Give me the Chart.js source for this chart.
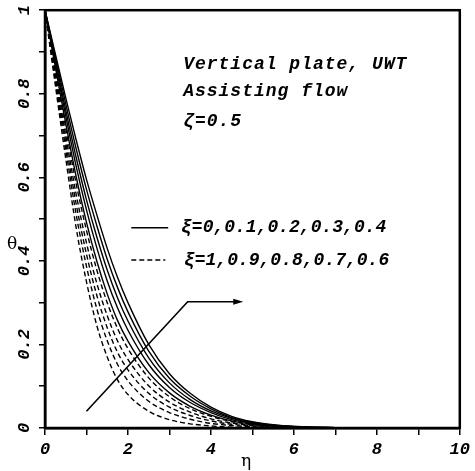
<!DOCTYPE html>
<html>
<head>
<meta charset="utf-8">
<script src="https://cdn.jsdelivr.net/npm/chart.js@4.4.0/dist/chart.umd.min.js"></script>
<style>
  html, body { margin: 0; padding: 0; background: #fff; }
  #wrap { width: 475px; height: 471px; }
</style>
</head>
<body>
<div id="wrap"><canvas id="thetaChart" width="475" height="471"></canvas></div>
<script>
// eta grid shared by all curves
const eta = [0, 0.25, 0.5, 0.75, 1, 1.25, 1.5, 1.75, 2, 2.5, 3, 3.5, 4, 4.5, 5, 5.5, 6, 7, 8, 9, 10];

// solid curves, xi = 0 .. 0.4
const thetaXi00 = [1, 0.895, 0.79, 0.69, 0.595, 0.51, 0.43, 0.36, 0.30, 0.20, 0.13, 0.083, 0.05, 0.028, 0.015, 0.008, 0.004, 0.001, 0, 0, 0];
const thetaXi01 = [1, 0.888, 0.776, 0.669, 0.571, 0.484, 0.404, 0.336, 0.278, 0.184, 0.119, 0.076, 0.046, 0.025, 0.014, 0.007, 0.004, 0.001, 0, 0, 0];
const thetaXi02 = [1, 0.88, 0.761, 0.648, 0.546, 0.457, 0.378, 0.311, 0.256, 0.168, 0.108, 0.068, 0.041, 0.023, 0.012, 0.006, 0.003, 0.001, 0, 0, 0];
const thetaXi03 = [1, 0.873, 0.747, 0.627, 0.522, 0.431, 0.352, 0.287, 0.234, 0.152, 0.097, 0.061, 0.037, 0.02, 0.011, 0.006, 0.003, 0.001, 0, 0, 0];
const thetaXi04 = [1, 0.864, 0.729, 0.602, 0.492, 0.399, 0.321, 0.257, 0.208, 0.133, 0.084, 0.052, 0.031, 0.017, 0.009, 0.005, 0.002, 0, 0, 0, 0];

// dashed curves, xi = 0.6 .. 1
const thetaXi06 = [1, 0.858, 0.718, 0.585, 0.473, 0.378, 0.30, 0.238, 0.19, 0.12, 0.075, 0.046, 0.028, 0.015, 0.008, 0.004, 0.002, 0, 0, 0, 0];
const thetaXi07 = [1, 0.849, 0.70, 0.56, 0.443, 0.346, 0.269, 0.208, 0.164, 0.101, 0.062, 0.038, 0.022, 0.012, 0.006, 0.003, 0.002, 0, 0, 0, 0];
const thetaXi08 = [1, 0.84, 0.684, 0.537, 0.416, 0.317, 0.24, 0.181, 0.139, 0.083, 0.05, 0.03, 0.017, 0.009, 0.005, 0.002, 0.001, 0, 0, 0, 0];
const thetaXi09 = [1, 0.831, 0.667, 0.512, 0.387, 0.285, 0.209, 0.152, 0.113, 0.064, 0.037, 0.021, 0.011, 0.006, 0.003, 0.001, 0.001, 0, 0, 0, 0];
const thetaXi10 = [1, 0.82, 0.645, 0.48, 0.35, 0.245, 0.17, 0.115, 0.08, 0.04, 0.02, 0.01, 0.005, 0.002, 0.001, 0, 0, 0, 0, 0, 0];

const solidSeries = [thetaXi00, thetaXi01, thetaXi02, thetaXi03, thetaXi04];
const dashedSeries = [thetaXi06, thetaXi07, thetaXi08, thetaXi09, thetaXi10];

const xTickLabels = ['0', '2', '4', '6', '8', '10'];
const yTickLabels = ['0', '0.2', '0.4', '0.6', '0.8', '1'];

const noteLines = ['Vertical plate, UWT', 'Assisting flow', 'ζ=0.5'];
const legendSolid = 'ξ=0,0.1,0.2,0.3,0.4';
const legendDashed = 'ξ=1,0.9,0.8,0.7,0.6';

const TICK_FONT = 'bold italic 17px "Liberation Mono", "DejaVu Sans Mono", monospace';
const NOTE_FONT = 'bold italic 18px "Liberation Mono", "DejaVu Sans Mono", monospace';

function toPoints(arr) {
    return arr.map(function (v, i) { return { x: eta[i], y: v }; });
}

function makeSet(arr, dashed) {
    return {
        data: toPoints(arr),
        borderColor: '#000',
        borderWidth: 1.4,
        borderDash: dashed ? [5, 3] : [],
        pointRadius: 0,
        fill: false,
        cubicInterpolationMode: 'monotone'
    };
}

const datasets = solidSeries.map(function (a) { return makeSet(a, false); })
    .concat(dashedSeries.map(function (a) { return makeSet(a, true); }));

// frame, axis names, y labels, notes, legend, arrow
const decorPlugin = {
    id: 'decor',
    afterDraw: function (chart) {
        const ctx = chart.ctx;
        const a = chart.chartArea;
        const xs = chart.scales.x;
        const ys = chart.scales.y;
        const px = function (v) { return xs.getPixelForValue(v); };
        const py = function (v) { return ys.getPixelForValue(v); };

        ctx.save();
        ctx.strokeStyle = '#000';
        ctx.fillStyle = '#000';

        // box
        ctx.lineWidth = 2.5;
        ctx.strokeRect(a.left, a.top, a.right - a.left, a.bottom - a.top);

        // y tick labels, rotated
        ctx.font = TICK_FONT;
        ctx.textAlign = 'center';
        ctx.textBaseline = 'middle';
        yTickLabels.forEach(function (lab) {
            ctx.save();
            ctx.translate(25, py(parseFloat(lab)));
            ctx.rotate(-Math.PI / 2);
            ctx.fillText(lab, 0, 0);
            ctx.restore();
        });

        // axis names
        ctx.font = '17px "DejaVu Serif", serif';
        ctx.fillText('θ', 12, py(0.44));
        ctx.fillText('η', px(4.85), 462);

        // notes
        ctx.font = NOTE_FONT;
        ctx.textAlign = 'left';
        ctx.letterSpacing = '1px';
        ctx.fillText(noteLines[0], px(3.33), py(0.871));
        ctx.fillText(noteLines[1], px(3.33), py(0.805));
        ctx.fillText(noteLines[2], px(3.33), py(0.733));
        ctx.letterSpacing = '0px';

        // legend
        ctx.lineWidth = 1.5;
        ctx.beginPath();
        ctx.moveTo(px(2.08), py(0.479));
        ctx.lineTo(px(2.97), py(0.479));
        ctx.stroke();
        ctx.setLineDash([5, 3]);
        ctx.beginPath();
        ctx.moveTo(px(2.08), py(0.402));
        ctx.lineTo(px(2.9), py(0.402));
        ctx.stroke();
        ctx.setLineDash([]);
        ctx.fillText(legendSolid, px(3.28), py(0.479));
        ctx.fillText(legendDashed, px(3.35), py(0.402));

        // arrow
        ctx.lineWidth = 1.6;
        ctx.beginPath();
        ctx.moveTo(px(1.0), py(0.04));
        ctx.lineTo(px(3.44), py(0.302));
        ctx.lineTo(px(4.6), py(0.302));
        ctx.stroke();
        const ex = px(4.78), ey = py(0.302);
        ctx.beginPath();
        ctx.moveTo(ex, ey);
        ctx.lineTo(ex - 10, ey - 3);
        ctx.lineTo(ex - 10, ey + 3);
        ctx.closePath();
        ctx.fill();

        ctx.restore();
    }
};

const config = {
    type: 'line',
    data: { datasets: datasets },
    options: {
        responsive: false,
        animation: false,
        devicePixelRatio: 1,
        layout: { padding: { left: 0, right: 12, top: 10, bottom: 0 } },
        plugins: { legend: { display: false }, tooltip: { enabled: false } },
        scales: {
            x: {
                type: 'linear',
                min: 0,
                max: 10,
                afterFit: function (scale) { scale.height = 43; },
                border: { display: true, color: '#000', width: 2.5 },
                grid: { drawOnChartArea: false, drawTicks: true, tickLength: 7, color: '#000', lineWidth: 1.5 },
                ticks: {
                    stepSize: 1,
                    padding: 5,
                    color: '#000',
                    maxRotation: 0,
                    font: { family: '"Liberation Mono", "DejaVu Sans Mono", monospace', size: 17, style: 'italic', weight: 'bold' },
                    callback: function (v) {
                        const s = String(v);
                        return xTickLabels.indexOf(s) >= 0 ? s : '';
                    }
                }
            },
            y: {
                type: 'linear',
                min: 0,
                max: 1,
                afterFit: function (scale) { scale.width = 45; },
                border: { display: true, color: '#000', width: 2.5 },
                grid: { drawOnChartArea: false, drawTicks: true, tickLength: 6, color: '#000', lineWidth: 1.5 },
                ticks: {
                    stepSize: 0.1,
                    color: '#000',
                    callback: function () { return ''; }
                }
            }
        }
    },
    plugins: [decorPlugin]
};

const thetaChart = new Chart(document.getElementById('thetaChart'), config);
</script>
</body>
</html>
